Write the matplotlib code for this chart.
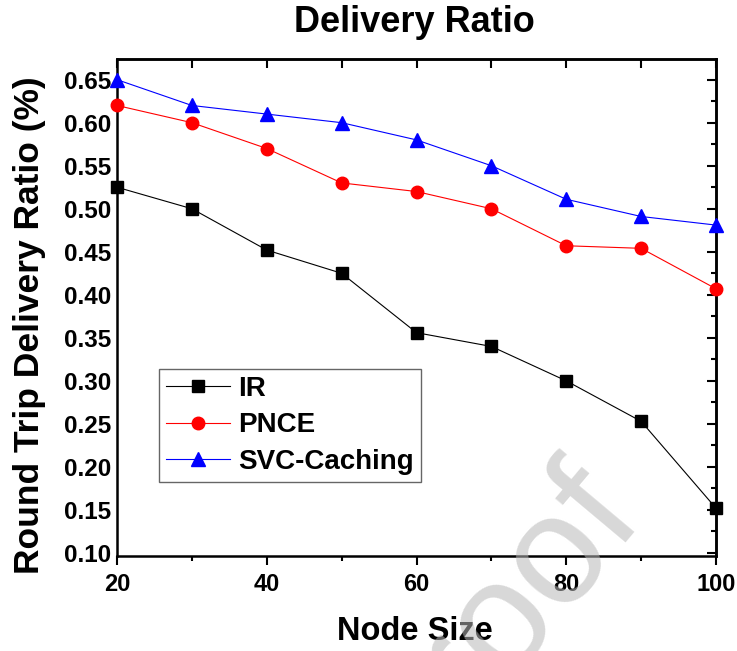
import matplotlib
matplotlib.use("Agg")
import matplotlib.pyplot as plt
from matplotlib.ticker import MultipleLocator

plt.rcParams['font.family'] = ['Liberation Sans', 'DejaVu Sans']
plt.rcParams['font.weight'] = 'bold'

# Dati
node_size = [20, 30, 40, 50, 60, 70, 80, 90, 100]
ir = [0.525, 0.500, 0.452, 0.425, 0.356, 0.340, 0.300, 0.253, 0.152]
pnce = [0.620, 0.600, 0.570, 0.530, 0.520, 0.500, 0.457, 0.454, 0.407]
svc_caching = [0.650, 0.620, 0.610, 0.600, 0.580, 0.550, 0.511, 0.491, 0.481]
x_ticks = [20, 40, 60, 80, 100]
y_ticks = [0.10, 0.15, 0.20, 0.25, 0.30, 0.35, 0.40, 0.45, 0.50, 0.55, 0.60, 0.65]

fig = plt.figure(figsize=(7.37, 6.51), dpi=100)
ax = fig.add_axes([117/737, 1 - 556/651, (716 - 117)/737, (556 - 59)/651])

ax.plot(node_size, ir, color='black', linewidth=0.8, marker='s', markersize=8, label='IR', clip_on=False, zorder=3)
ax.plot(node_size, pnce, color='red', linewidth=0.8, marker='o', markersize=9, label='PNCE', clip_on=False, zorder=3)
ax.plot(node_size, svc_caching, color='blue', linewidth=0.8, marker='^', markersize=10, label='SVC-Caching', clip_on=False, zorder=3)

ax.set_xlim(20, 100)
ax.set_ylim(0.0965, 0.674)

for s in ax.spines.values():
    s.set_linewidth(1.8)

ax.set_xticks(x_ticks)
ax.xaxis.set_minor_locator(MultipleLocator(10))
ax.set_yticks(y_ticks)
ax.set_yticklabels(['%.2f' % v for v in y_ticks])
ax.tick_params(axis='x', which='major', direction='out', length=6.5, width=1.5, labelsize=17, pad=6)
ax.tick_params(axis='x', which='minor', direction='out', length=3.5, width=1.5)
ax.tick_params(axis='y', which='both', length=0, labelsize=17.5, pad=4)

# assi secondari con tacche interne (stile Origin)
top = ax.secondary_xaxis('top')
top.set_xticks(x_ticks)
top.xaxis.set_minor_locator(MultipleLocator(10))
top.tick_params(which='major', direction='in', length=6.5, width=1.5, labeltop=False)
top.tick_params(which='minor', direction='in', length=6.5, width=1.5)
top.spines['top'].set_linewidth(1.8)

right = ax.secondary_yaxis('right')
right.set_yticks(y_ticks)
right.yaxis.set_minor_locator(MultipleLocator(0.025))
right.tick_params(which='major', direction='in', length=6.5, width=1.5, labelright=False)
right.tick_params(which='minor', direction='in', length=3.5, width=1.5)
right.spines['right'].set_linewidth(1.8)

fig.text(414/737, 1 - 22/651, 'Delivery Ratio', fontsize=26, fontweight='bold', ha='center', va='center')
fig.text(415/737, 1 - 632/651, 'Node Size', fontsize=23.5, fontweight='bold', ha='center', va='center')
fig.text(30/737, 1 - 325/651, 'Round Trip Delivery Ratio (%)', fontsize=25.5, fontweight='bold',
         ha='center', va='center', rotation=90)

leg = ax.legend(loc='upper left', bbox_to_anchor=(159/737, 1 - 369/651), bbox_transform=fig.transFigure,
                fontsize=20, frameon=True, fancybox=False, handlelength=2.3, handletextpad=0.3,
                labelspacing=0.38, borderpad=0.25, borderaxespad=0)
leg.get_frame().set_edgecolor('#404040')
leg.get_frame().set_linewidth(1.0)

# filigrana
fig.text(642/737, 1 - 510/651, 'Proof', fontsize=112, fontweight='normal', color='#b8b8b8', alpha=0.55,
         rotation=50, rotation_mode='anchor', ha='right', va='baseline', zorder=10)

fig.savefig('out.png', dpi=100)
